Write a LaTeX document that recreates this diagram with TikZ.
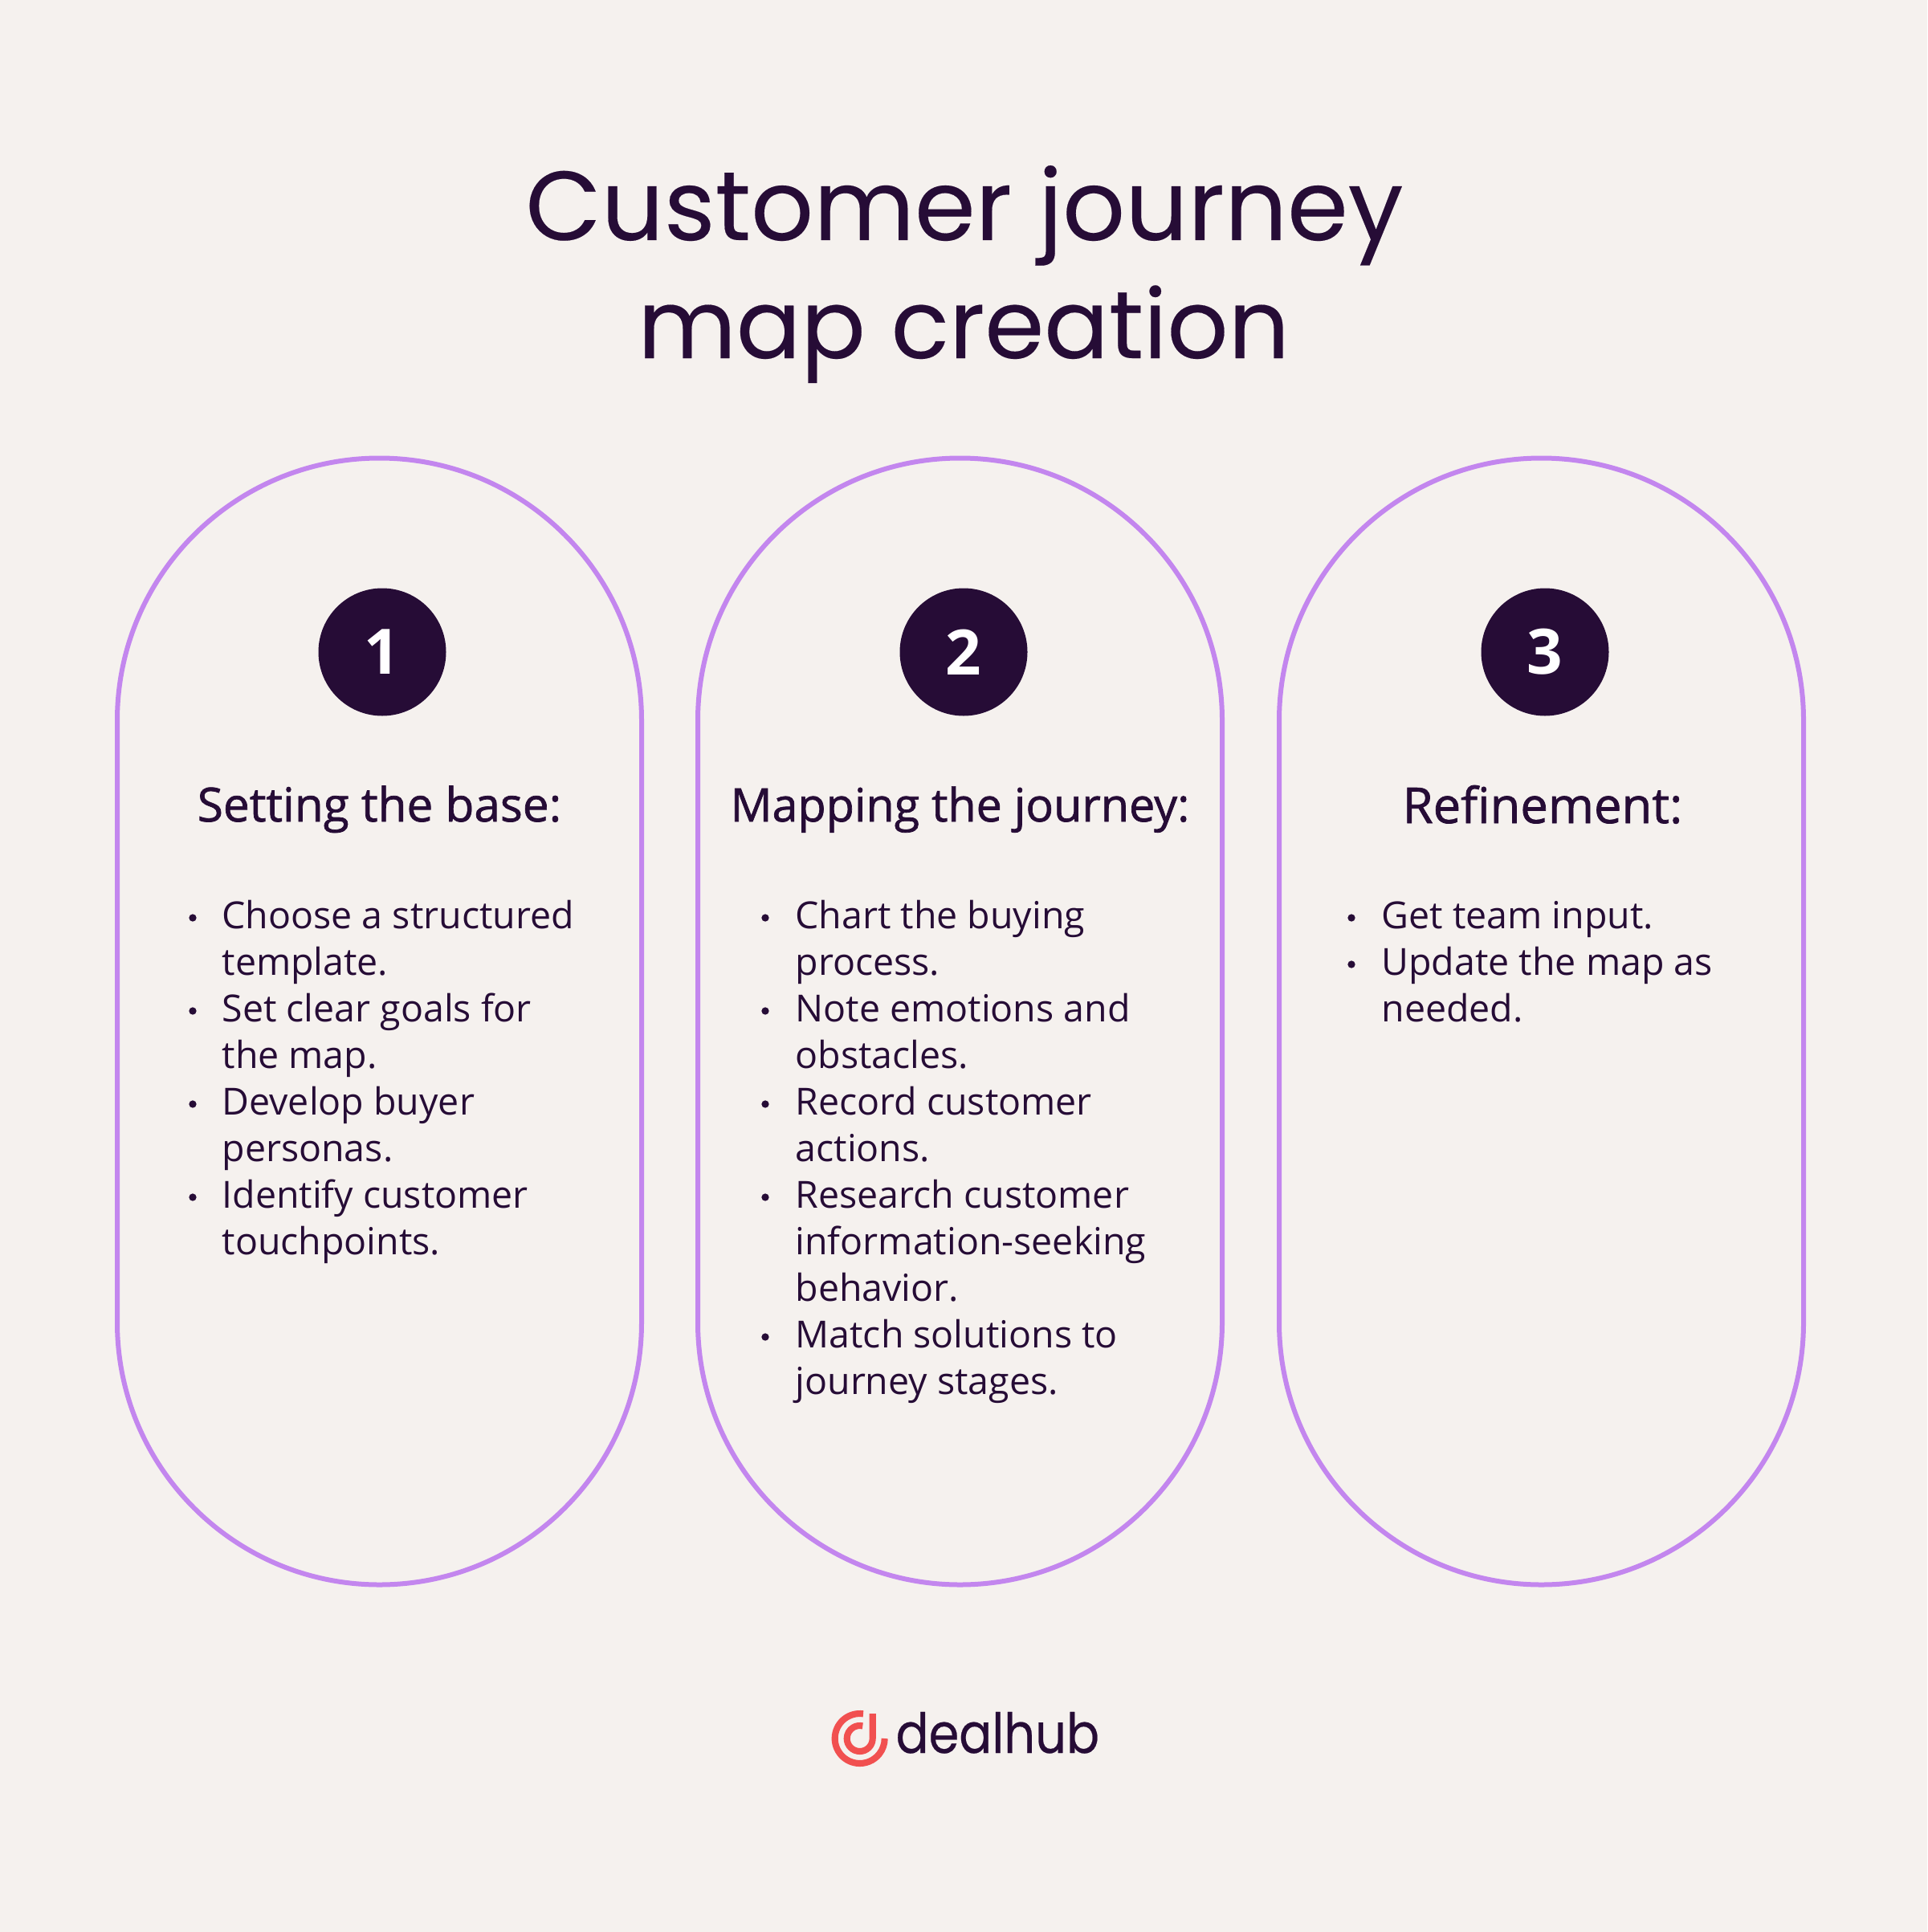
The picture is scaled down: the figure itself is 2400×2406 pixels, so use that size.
\documentclass[tikz,border=0pt]{standalone}
\usepackage{fontspec}
\setmainfont{Open Sans}
\newfontfamily\titlefont[FakeBold=0.15]{Poppins}
\newfontfamily\logofont[FakeStretch=0.88,FakeBold=0.35]{Poppins}
\newfontfamily\headfont[FakeBold=1.2]{Open Sans}
\definecolor{bgc}{HTML}{F5F1EE}
\definecolor{ink}{HTML}{260C36}
\definecolor{lilac}{HTML}{C386EE}
\definecolor{coral}{HTML}{F15050}
\tikzset{
 pill/.style={draw=lilac,line width=2pt},
 titletext/.style={anchor=base,text=ink,inner sep=0pt},
 headtext/.style={anchor=base,text=ink,inner sep=0pt},
 bodytext/.style={anchor=base west,text=ink,inner sep=0pt,font=\fontsize{15.5}{19}\selectfont},
 badge/.style={circle,fill=ink,minimum size=53pt,inner sep=0pt,text=white,font=\bfseries\fontsize{26}{30}\selectfont},
 bulletdot/.style={circle,fill=ink,minimum size=3.1pt,inner sep=0pt},
 logoarc/.style={draw=coral,line width=2.7pt},
 logotext/.style={anchor=base west,text=ink,inner sep=0pt,font=\logofont\fontsize{23}{28}\selectfont}
}
\begin{document}
\begin{tikzpicture}[x=0.33333pt,y=-0.33333pt]
\fill[bgc] (0,0) rectangle (2400,2406);
\useasboundingbox (0,0) rectangle (2400,2406);
\node[titletext,font=\titlefont\fontsize{40.7}{50}\selectfont] (t1) at (1201,299) {Customer journey};
\node[titletext,font=\titlefont\fontsize{39.7}{50}\selectfont] (t2) at (1200,446) {map creation};
\foreach \x/\n in {146/a,869/b,1593/c}{
  \draw[pill] (\x,897) arc[start angle=180,end angle=360,radius=326.5] -- ++(0,750) arc[start angle=0,end angle=180,radius=326.5] -- cycle;
}
\node[badge] (n1) at (476,812) {1};
\node[badge] (n2) at (1200,812) {2};
\node[badge] (n3) at (1924,812) {3};
\node[headtext,font=\headfont\fontsize{19.5}{23}\selectfont] (h1) at (472.5,1023) {Setting the base:};
\node[headtext,font=\headfont\fontsize{19.15}{23}\selectfont] (h2) at (1195.5,1023) {Mapping the journey:};
\node[headtext,font=\headfont\fontsize{20.5}{23}\selectfont] (h3) at (1921,1025) {Refinement:};
\foreach \k/\t in {0/Choose a structured,1/template.,2/Set clear goals for,3/the map.,4/Develop buyer,5/personas.,6/Identify customer,7/touchpoints.}{
  \node[bodytext] (a\k) at (276,1156.5+58*\k) {\t};
}
\foreach \k/\t in {0/Chart the buying,1/process.,2/Note emotions and,3/obstacles.,4/Record customer,5/actions.,6/Research customer,7/information-seeking,8/behavior.,9/Match solutions to,10/journey stages.}{
  \node[bodytext] (b\k) at (990,1156.5+58*\k) {\t};
}
\foreach \k/\t in {0/Get team input.,1/Update the map as,2/needed.}{
  \node[bodytext] (c\k) at (1720,1156.5+58*\k) {\t};
}
\foreach \k in {0,2,4,6}{\node[bulletdot] (da\k) at (240,1143+58*\k) {};}
\foreach \k in {0,2,4,6,9}{\node[bulletdot] (db\k) at (953,1143+58*\k) {};}
\foreach \k in {0,1}{\node[bulletdot] (dc\k) at (1683,1143+58*\k) {};}
% logo
\draw[logoarc] (1075,2134.3) arc[start angle=-82,end angle=-360,radius=31];
\draw[logoarc] (1086.7,2134) -- (1086.7,2165) arc[start angle=0,end angle=283,radius=16];
\node[logotext] (lg) at (1115,2183) {dealhub};
\end{tikzpicture}
\end{document}
